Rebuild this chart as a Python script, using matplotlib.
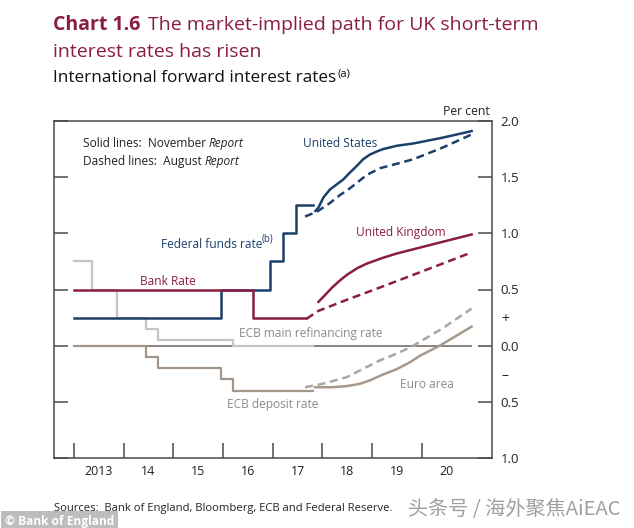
import matplotlib
matplotlib.use('Agg')
import matplotlib.pyplot as plt

# ---------------- data ----------------
years = [2013, 2014, 2015, 2016, 2017, 2018, 2019, 2020]
year_labels = ['2013', '14', '15', '16', '17', '18', '19', '20']
year_label_pos = [2013.5, 2014.5, 2015.5, 2016.5, 2017.5, 2018.5, 2019.5, 2020.5]
ytick_vals = [-1.0, -0.5, 0.0, 0.5, 1.0, 1.5, 2.0]
ytick_labels = ['1.0', '0.5', '0.0', '0.5', '1.0', '1.5', '2.0']
sign_vals = [-0.25, 0.25]
sign_labels = ['\u2013', '+']

bank_dates = [2013.0, 2016.60, 2017.66]
bank_vals = [0.5, 0.25, 0.25]
fed_dates = [2013.0, 2015.96, 2016.95, 2017.20, 2017.46, 2017.81]
fed_vals = [0.25, 0.5, 0.75, 1.0, 1.25, 1.25]
refi_dates = [2013.0, 2013.36, 2013.86, 2014.45, 2014.69, 2016.20, 2017.81]
refi_vals = [0.75, 0.5, 0.25, 0.15, 0.05, 0.0, 0.0]
dep_dates = [2013.0, 2014.45, 2014.69, 2015.96, 2016.20, 2017.81]
dep_vals = [0.0, -0.1, -0.2, -0.3, -0.4, -0.4]

us_nov_t = [2017.86, 2017.92, 2018.02, 2018.15, 2018.30, 2018.42, 2018.55, 2018.69, 2018.82, 2018.95, 2019.10, 2019.22, 2019.50, 2019.83, 2020.40, 2021.0]
us_nov_v = [1.20, 1.23, 1.32, 1.39, 1.44, 1.48, 1.54, 1.60, 1.66, 1.70, 1.73, 1.75, 1.78, 1.80, 1.85, 1.91]
us_aug_t = [2017.65, 2017.88, 2018.15, 2018.35, 2018.55, 2018.75, 2018.89, 2019.16, 2019.50, 2019.83, 2020.40, 2021.0]
us_aug_v = [1.15, 1.19, 1.27, 1.34, 1.40, 1.47, 1.52, 1.58, 1.62, 1.66, 1.76, 1.88]
uk_nov_t = [2017.92, 2018.05, 2018.20, 2018.35, 2018.49, 2018.70, 2018.89, 2019.20, 2019.49, 2020.20, 2021.0]
uk_nov_v = [0.39, 0.45, 0.52, 0.58, 0.63, 0.69, 0.73, 0.78, 0.82, 0.90, 0.99]
uk_aug_t = [2017.68, 2017.92, 2018.50, 2019.17, 2020.00, 2021.0]
uk_aug_v = [0.24, 0.31, 0.41, 0.52, 0.66, 0.83]
ea_nov_t = [2017.85, 2018.20, 2018.49, 2018.75, 2018.95, 2019.20, 2019.49, 2019.75, 2019.96, 2020.36, 2020.70, 2021.0]
ea_nov_v = [-0.37, -0.37, -0.36, -0.34, -0.31, -0.26, -0.21, -0.15, -0.09, 0.0, 0.09, 0.17]
ea_aug_t = [2017.65, 2018.00, 2018.49, 2018.80, 2019.16, 2019.50, 2019.83, 2020.40, 2021.0]
ea_aug_v = [-0.37, -0.34, -0.28, -0.21, -0.13, -0.07, 0.0, 0.15, 0.33]

# ---------------- style ----------------
FONT = ['Open Sans', 'DejaVu Sans']
plt.rcParams['font.family'] = FONT
MAROON = '#8a1c45'
BLUE = '#1d3f6c'
REFI = '#c8c3be'
DEP = '#a39688'
EA_SOL = '#a8998b'
EA_DASH = '#a9a6a3'
GREYTXT = '#8f8a86'
SPINE = '#4a4a4a'
DASH = (0, (3.2, 1.9))

fig = plt.figure(figsize=(6.34, 5.28), dpi=100)
fig.patch.set_facecolor('white')
ax = fig.add_axes([54 / 634, 1 - 458 / 528, (492 - 54) / 634, (458 - 121) / 528])
ax.set_xlim(2012.60, 2021.41)
ax.set_ylim(-1.0, 2.0)

# zero line
ax.plot([2013.0, 2021.0], [0, 0], color='#7f7a76', lw=1.3, zorder=1, solid_capstyle='butt')

# historical step series
ax.plot(refi_dates, refi_vals, drawstyle='steps-post', color=REFI, lw=1.6, zorder=2)
ax.plot(dep_dates, dep_vals, drawstyle='steps-post', color=DEP, lw=1.6, zorder=2)
ax.plot(fed_dates, fed_vals, drawstyle='steps-post', color=BLUE, lw=1.8, zorder=3)
ax.plot(bank_dates, bank_vals, drawstyle='steps-post', color=MAROON, lw=1.8, zorder=4)

# forward curves
ax.plot(us_aug_t, us_aug_v, color=BLUE, lw=1.8, ls=DASH, zorder=3)
ax.plot(us_nov_t, us_nov_v, color=BLUE, lw=1.8, zorder=3)
ax.plot(uk_aug_t, uk_aug_v, color=MAROON, lw=1.8, ls=DASH, zorder=3)
ax.plot(uk_nov_t, uk_nov_v, color=MAROON, lw=1.8, zorder=3)
ax.plot(ea_aug_t, ea_aug_v, color=EA_DASH, lw=1.8, ls=DASH, zorder=3)
ax.plot(ea_nov_t, ea_nov_v, color=EA_SOL, lw=1.8, zorder=3)

# spines & ticks
for s in ax.spines.values():
    s.set_color(SPINE)
    s.set_linewidth(1.1)
ax.set_xticks(years)
ax.set_xticklabels([])
ax.set_xticks(year_label_pos, minor=True)
ax.set_xticklabels(year_labels, minor=True)
ax.tick_params(axis='x', which='major', direction='in', length=11, width=1.1, color=SPINE, top=False)
ax.tick_params(axis='x', which='minor', length=0, labelsize=9, pad=5, labelcolor='#222222')

ax.set_yticks(ytick_vals)
ax.set_yticklabels(ytick_labels)
ax.set_yticks(sign_vals, minor=True)
ax.set_yticklabels(sign_labels, minor=True)
ax.tick_params(axis='y', which='major', direction='in', length=10, width=1.1, color=SPINE,
               left=True, right=True, labelleft=False, labelright=True, labelsize=9.5, pad=6,
               labelcolor='#222222')
ax.tick_params(axis='y', which='minor', length=0, left=False, right=True, labelleft=False,
               labelright=True, labelsize=10, pad=7, labelcolor='#222222')

# annotations
ATX = 8.6
t1 = ax.text(2013.175, 1.77, 'Solid lines:  November ', fontsize=ATX, color='#222222', va='baseline')
ax.annotate('Report', xy=(1, 0), xycoords=t1, fontsize=ATX, style='italic', color='#222222', va='bottom')
t2 = ax.text(2013.175, 1.607, 'Dashed lines:  August ', fontsize=ATX, color='#222222', va='baseline')
ax.annotate('Report', xy=(1, 0), xycoords=t2, fontsize=ATX, style='italic', color='#222222', va='bottom')
ax.text(2017.60, 1.768, 'United States', fontsize=ATX, color=BLUE, va='baseline')
t3 = ax.text(2014.744, 0.871, 'Federal funds rate', fontsize=ATX, color=BLUE, va='baseline')
ax.annotate('(b)', xy=(1, 0.45), xycoords=t3, fontsize=7, color=BLUE, va='bottom')
ax.text(2014.33, 0.539, 'Bank Rate', fontsize=ATX, color=MAROON, va='baseline')
ax.text(2018.67, 0.975, 'United Kingdom', fontsize=ATX, color=MAROON, va='baseline')
ax.text(2016.325, 0.078, 'ECB main refinancing rate', fontsize=ATX, color=GREYTXT, va='baseline')
ax.text(2019.56, -0.378, 'Euro area', fontsize=ATX, color=GREYTXT, va='baseline')
ax.text(2016.07, -0.554, 'ECB deposit rate', fontsize=ATX, color=GREYTXT, va='baseline')

# per cent
fig.text(490 / 634, 1 - 115 / 528, 'Per cent', fontsize=8.8, color='#222222', ha='right', va='baseline')

# titles
r = fig.canvas.get_renderer()
tt = fig.text(53 / 634, 1 - 30 / 528, 'Chart 1.6', fontsize=14, fontweight='bold', color=MAROON, va='baseline')
bb = tt.get_window_extent(r)
fig.text((bb.x1 + 8) / 634, 1 - 30 / 528, 'The market-implied path for UK short-term', fontsize=14,
         color=MAROON, va='baseline')
fig.text(53 / 634, 1 - 57 / 528, 'interest rates has risen', fontsize=14, color=MAROON, va='baseline')
st = fig.text(53 / 634, 1 - 82 / 528, 'International forward interest rates', fontsize=12.3,
              color='#111111', va='baseline')
bb2 = st.get_window_extent(r)
fig.text((bb2.x1 + 1) / 634, 1 - 76 / 528, '(a)', fontsize=8, color='#111111', va='baseline')

# footer
fig.text(54 / 634, 1 - 511 / 528, 'Sources:  Bank of England, Bloomberg, ECB and Federal Reserve.', fontsize=8.1,
         color='#222222', va='baseline')
fig.text(408 / 634, 1 - 515 / 528, '头条号 / 海外聚焦AiEAC', fontsize=14.5, color='#a0a0a0', va='baseline',
         family=['Noto Sans CJK SC', 'DejaVu Sans'], fontweight='light')
fig.text(5 / 634, 1 - 524.5 / 528, '\u00a9 Bank of England', fontsize=8.6, fontweight='bold', color='white',
         va='baseline', bbox=dict(boxstyle='square,pad=0.3', fc='#bdbdbd', ec='none'))

fig.savefig('out.png', dpi=100, facecolor='white')
